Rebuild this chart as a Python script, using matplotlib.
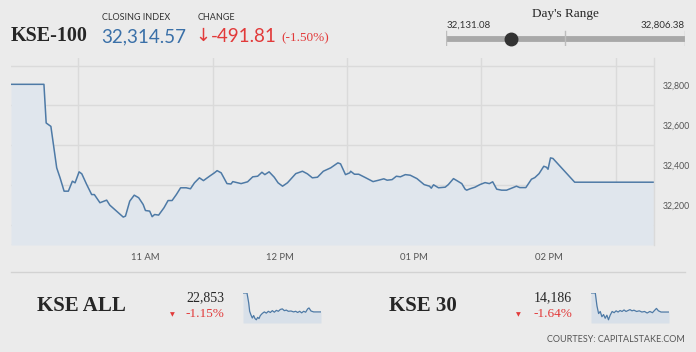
import numpy as np
import matplotlib
matplotlib.use("Agg")
import matplotlib.pyplot as plt
from matplotlib.lines import Line2D

# ---- data -------------------------------------------------------------
# minutes after 10:00
kse100_t = [0, 14.7, 15.7, 17.8, 20.4, 21.9, 23.7, 25.6, 27.4, 28.6, 30.4, 31.6,
            33.8, 36, 37.2, 39.7, 42.7, 44.1, 47.1, 50.1, 51.1, 53, 55, 57, 59,
            60, 61.9, 63, 64.1, 65.9, 68.3, 70.1, 71.9, 73.8, 75.7, 78.2, 80.1,
            81.9, 84.1, 85.9, 88.6, 90.8, 92, 93.8, 96.4, 98.2, 99, 102.7, 105.6,
            107.9, 110.1, 112, 113.3, 115.2, 117.5, 119.2, 121.2, 123.4, 127.1,
            130.1, 132.3, 134.5, 136.8, 139.4, 142.7, 145.9, 147.1, 149.3, 151.2,
            151.6, 153.3, 155.2, 158.2, 161.6, 164.1, 166.4, 167.9, 170.1, 172,
            173.8, 176, 178.2, 181.2, 184.4, 186.8, 187.6, 188.6, 190.8, 193.8,
            195.2, 197.5, 199, 201.2, 202.7, 203.4, 204.9, 207.1, 209.3, 211.6,
            213.5, 215, 216.8, 219, 221.2, 224.1, 225.6, 227.1, 229.8, 232.3,
            233.8, 235.7, 237.8, 239, 239.7, 240.8, 241.9, 251.6, 286.7]
kse100_v = [32806, 32806, 32612, 32595, 32387, 32337, 32270, 32270, 32320, 32312,
            32367, 32357, 32303, 32253, 32253, 32212, 32225, 32200, 32170, 32140,
            32145, 32220, 32250, 32237, 32203, 32173, 32170, 32142, 32153, 32150,
            32187, 32223, 32223, 32253, 32287, 32287, 32282, 32312, 32337, 32323,
            32345, 32362, 32373, 32362, 32308, 32306, 32318, 32308, 32317, 32342,
            32345, 32365, 32353, 32367, 32340, 32312, 32295, 32312, 32358, 32370,
            32357, 32337, 32340, 32370, 32387, 32412, 32407, 32353, 32362,
            32370, 32355, 32355, 32338, 32318, 32325, 32332, 32325, 32328, 32345,
            32342, 32353, 32350, 32333, 32303, 32295, 32285, 32302, 32287, 32290,
            32303, 32333, 32323, 32308, 32280, 32275, 32282, 32290, 32303, 32313,
            32308, 32317, 32280, 32275, 32275, 32288, 32295, 32288, 32288, 32330,
            32338, 32358, 32395, 32390, 32380, 32437, 32434, 32315, 32315]

close_value = 32314.57
change_value = -491.81
change_pct = -1.50
day_low = 32131.08
day_high = 32806.38

y_ticks = [32200, 32400, 32600, 32800]
x_ticks = [60, 120, 180, 240]
x_labels = ["11 AM", "12 PM", "01 PM", "02 PM"]

kse_all_t = [0, 14.7, 20.9, 24.5, 29.4, 34.3, 39.2, 44.2, 49.1, 54, 58.9, 63.8,
             71.1, 78.5, 85.9, 93.2, 100.6, 107.9, 115.3, 122.7, 130, 137.4,
             144.7, 152.1, 159.4, 166.8, 176.6, 186.4, 193.8, 201.1, 208.5,
             215.9, 223.2, 230.6, 237.9, 242.8, 250.2, 260, 287]
kse_all_v = [23120, 23120, 22982, 22862, 22810, 22767, 22802, 22759, 22742, 22776,
             22759, 22802, 22832, 22853, 22836, 22862, 22845, 22871, 22849, 22875,
             22862, 22888, 22896, 22871, 22879, 22862, 22866, 22853, 22862, 22845,
             22862, 22840, 22862, 22849, 22896, 22909, 22866, 22853, 22853]

kse30_t = [0, 15.8, 21.9, 28, 34, 40.1, 46.2, 52.3, 58.4, 64.4, 70.5, 77.8, 85.1,
           92.4, 99.7, 107, 114.3, 121.6, 128.9, 136.2, 143.5, 150.8, 158.1,
           167.8, 177.6, 187.3, 197, 206.7, 216.5, 226.2, 233.5, 240.8, 248.1,
           257.8, 287]
kse30_v = [14422, 14422, 14262, 14167, 14193, 14128, 14155, 14109, 14147, 14090,
           14147, 14193, 14178, 14201, 14186, 14205, 14193, 14212, 14193, 14205,
           14216, 14201, 14209, 14193, 14201, 14186, 14193, 14174, 14193, 14178,
           14205, 14231, 14201, 14186, 14186]

kse_all_close, kse_all_pct = "22,853", "-1.15%"
kse30_close, kse30_pct = "14,186", "-1.64%"

# ---- styling ----------------------------------------------------------
W, H = 696, 352
BG = "#ebebeb"
GRID = "#dadada"
LINE = "#4e7aa6"
FILL = "#e0e6ed"
RED = "#e23a3a"
BLUE = "#3a70a8"
DARK = "#262626"
SERIF = ["Liberation Serif", "DejaVu Serif"]
SANS = ["Lato", "DejaVu Sans"]

fig = plt.figure(figsize=(W / 100, H / 100), dpi=100, facecolor=BG)


def px_axes(x0, y0, x1, y1, **kw):
    return fig.add_axes([x0 / W, 1 - y1 / H, (x1 - x0) / W, (y1 - y0) / H], **kw)


def fx(x):
    return x / W


def fy(y):
    return 1 - y / H


# ---- main chart -------------------------------------------------------
ax = px_axes(11, 58, 654, 245, facecolor=BG)
ax.fill_between(kse100_t, kse100_v, 32000, color=FILL, lw=0)
ax.plot(kse100_t, kse100_v, color=LINE, lw=1.1)
ax.set_xlim(0, 287)
ax.set_ylim(32000, 32938)
ax.set_yticks(np.arange(32000, 32901, 100), minor=True)
ax.set_xticks(np.arange(30, 271, 30), minor=True)
ax.grid(True, which="minor", color=GRID, lw=1.0)
ax.set_axisbelow(True)
ax.set_yticks(y_ticks)
ax.set_yticklabels([f"{v:,}" for v in y_ticks])
ax.set_xticks(x_ticks)
ax.set_xticklabels(x_labels)
ax.yaxis.tick_right()
ax.tick_params(which="both", length=0)
ax.tick_params(axis="y", pad=6, labelsize=6.3, labelcolor="#555555")
ax.tick_params(axis="x", pad=6, labelsize=6.8, labelcolor="#555555")
for lab in ax.get_xticklabels() + ax.get_yticklabels():
    lab.set_family(SANS)
for side in ["top", "left", "bottom"]:
    ax.spines[side].set_visible(False)
ax.spines["right"].set_color(GRID)
ax.spines["right"].set_linewidth(1.0)

# separator under chart
fig.add_artist(Line2D([fx(11), fx(685)], [fy(272), fy(272)], color="#d2d2d2", lw=1))

# ---- header -----------------------------------------------------------
fig.text(fx(11), fy(36), "KSE-100", family=SERIF, weight="bold", fontsize=14.5,
         color=DARK, va="center")
fig.text(fx(102), fy(18), "CLOSING INDEX", family=SANS, fontsize=6.5, color="#333333",
         va="center")
fig.text(fx(101), fy(37), f"{close_value:,.2f}", family=SANS, fontsize=13.5, color=BLUE,
         va="center")
fig.text(fx(198), fy(18), "CHANGE", family=SANS, fontsize=6.5, color="#333333", va="center")
fig.text(fx(195), fy(36), "\u2193", family=["DejaVu Sans"], fontsize=13, color=RED,
         va="center")
fig.text(fx(211), fy(37), f"{change_value:,.2f}", family=SANS, fontsize=13.5, color=RED,
         va="center")
fig.text(fx(281), fy(38), f"({change_pct:.2f}%)", family=SERIF, fontsize=9.5, color=RED,
         va="center")

# day's range
fig.text(fx(565), fy(14), "Day's Range", family=SERIF, fontsize=9.5, color=DARK,
         ha="center", va="center")
fig.text(fx(447), fy(25), f"{day_low:,.2f}", family=SANS, fontsize=7, color="#333333",
         va="center")
fig.text(fx(685), fy(25), f"{day_high:,.2f}", family=SANS, fontsize=7, color="#333333",
         ha="right", va="center")
rax = px_axes(446, 30, 685, 46)
rax.set_xlim(day_low, day_high)
rax.set_ylim(0, 1)
rax.axis("off")
rax.plot([day_low, day_high], [0.45, 0.45], color="#a8a8a8", lw=4.2, solid_capstyle="butt")
for v in [day_low, (day_low + day_high) / 2, day_high]:
    rax.plot([v, v], [0.0, 0.95], color="#bdbdbd", lw=1)
rax.plot([close_value], [0.45], "o", color="#333333", ms=9, clip_on=False)


# ---- bottom indices ---------------------------------------------------
def mini_index(name, name_x, val_right, tri_x, close, pct, sx0, sx1, t, v):
    fig.text(fx(name_x), fy(306), name, family=SERIF, weight="bold", fontsize=15,
             color=DARK, va="center")
    fig.text(fx(val_right), fy(298), close, family=SERIF, fontsize=10, color=DARK,
             ha="right", va="center")
    fig.text(fx(val_right), fy(314), pct, family=SERIF, fontsize=9.5, color=RED,
             ha="right", va="center")
    fig.text(fx(tri_x), fy(315), "\u25BC", family=["DejaVu Sans"], fontsize=4.5,
             color=RED, ha="center", va="center")
    sax = px_axes(sx0, 293, sx1, 323)
    lo = min(v) - (max(v) - min(v)) * 0.12
    sax.fill_between(t, v, lo, color="#d8e0e9", lw=0)
    sax.plot(t, v, color=LINE, lw=0.9)
    sax.set_xlim(0, max(t))
    sax.set_ylim(lo, max(v))
    sax.axis("off")


mini_index("KSE ALL", 37, 224, 172, kse_all_close, kse_all_pct, 243, 321,
           kse_all_t, kse_all_v)
mini_index("KSE 30", 389, 572, 518, kse30_close, kse30_pct, 591, 669,
           kse30_t, kse30_v)

fig.text(fx(685), fy(340), "COURTESY: CAPITALSTAKE.COM", family=SANS, fontsize=6.5,
         color="#555555", ha="right", va="center")

fig.savefig("out.png", dpi=100, facecolor=BG)
